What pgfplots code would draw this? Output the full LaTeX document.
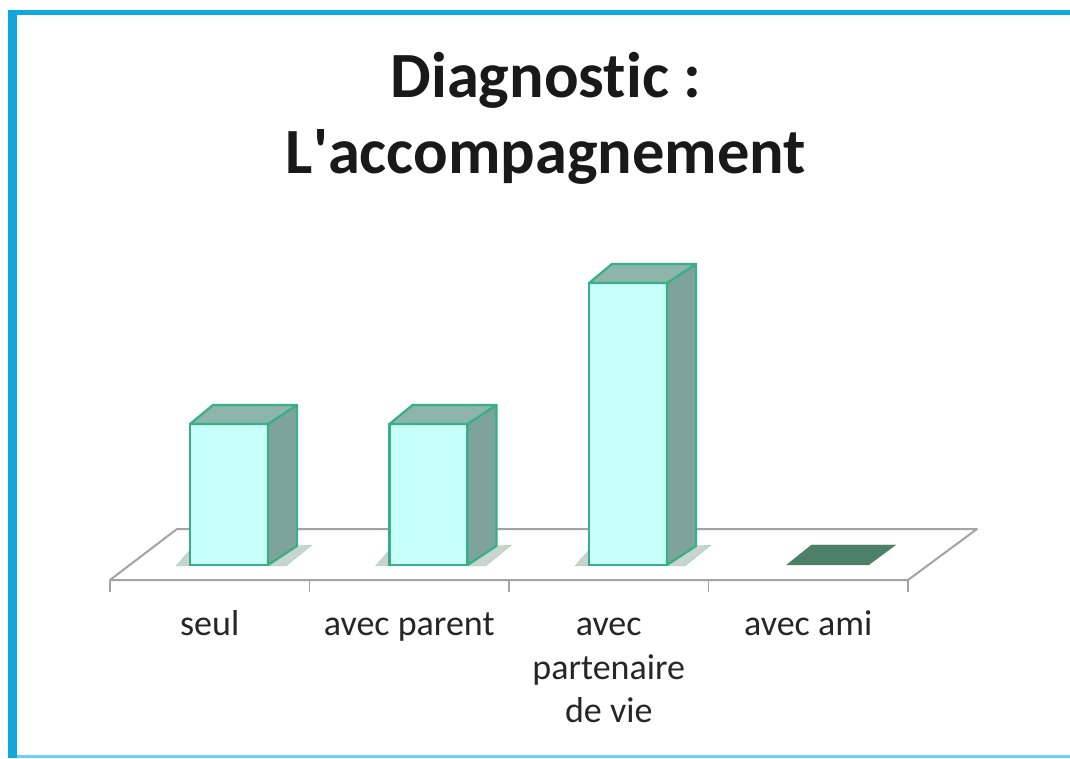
\documentclass[border=0pt]{standalone}
\usepackage{pgfplots}
\pgfplotsset{compat=1.18}
\usepackage{pgfplotstable}
\usepackage{fontspec}
\setmainfont{Carlito}[Ligatures={NoCommon}]
\definecolor{frontc}{HTML}{C8FFF8}
\definecolor{edgec}{HTML}{35B088}
\definecolor{sidec}{HTML}{7DA39B}
\definecolor{topc}{HTML}{8DB5AA}
\definecolor{zeroc}{HTML}{4D8069}
\definecolor{floorc}{HTML}{A3A3A3}
\definecolor{shadowc}{HTML}{5E8C78}
\definecolor{borderc}{HTML}{12A6DE}
\definecolor{borderlc}{HTML}{74CFEF}

\pgfplotstableread{
x y
0 1
1 1
2 2
3 0
}\data

\begin{document}
\begin{tikzpicture}
\begin{axis}[
  at={(0pt,0pt)}, anchor=south west,
  x=199.5pt, y=141pt,
  xmin=-1.1479, xmax=4.2155, ymin=-1.3688, ymax=4.0071,
  axis x line*=bottom, axis y line=none,
  x axis line style={draw=none},
  xtick style={draw=none},
  ytick=\empty,
  xtick={-0.0965,0.9035,1.9035,2.9035},
  xticklabels={seul,avec parent,{avec\\partenaire\\de vie},avec ami},
  typeset ticklabels with strut,
  xticklabel style={font=\fontsize{36}{43.5}\selectfont, align=center, anchor=north, inner sep=0pt, yshift=153pt, text=black!85},
  clip=false,
]
% floor
\addplot[draw=floorc, line width=2pt, fill=white, line join=round] coordinates {
  (-0.5965,-0.1064) (3.4035,-0.1064) (3.7494,0.2553) (-0.2607,0.2553) (-0.5965,-0.1064)};
% floor ticks
\addplot[draw=floorc, line width=1.5pt, unbounded coords=jump] coordinates {
  (-0.5965,-0.1064) (-0.5965,-0.19) (nan,nan)
  (0.4035,-0.1064) (0.4035,-0.19) (nan,nan)
  (1.4035,-0.1064) (1.4035,-0.19) (nan,nan)
  (2.4035,-0.1064) (2.4035,-0.19) (nan,nan)
  (3.4035,-0.1064) (3.4035,-0.19)};
% shadows beside bars
\addplot[scatter, only marks, mark=*, mark size=0pt, mark options={draw=none,fill=none},
  restrict expr to domain={\thisrow{y}}{0.5:100},
  scatter/@pre marker code/.code={\scope
    \fill[shadowc, opacity=0.35] (-92pt,-1pt) -- (-78pt,-1pt) -- (-78pt,15pt) -- cycle;
    \fill[shadowc, opacity=0.35] (0pt,-1pt) -- (18pt,-1pt) -- (44pt,20pt) -- (29pt,19pt) -- cycle;},
  scatter/@post marker code/.code={\endscope}]
  table[x expr=\thisrow{x}+0.1955, y expr=0] {\data};
% front faces
\addplot[ybar, bar width=0.391, fill=frontc, draw=edgec, line width=2.2pt,
  restrict y to domain=0.001:100] table[x=x, y=y] {\data};
% top and side faces
\addplot[scatter, only marks, mark=*, mark size=0pt, mark options={draw=none,fill=none},
  visualization depends on={rawy \as \val},
  scatter/@pre marker code/.code={\scope
    \ifdim \val pt>0pt
      \filldraw[fill=sidec, draw=edgec, line width=2.2pt, line join=round]
        (0pt,0pt) -- (29pt,19pt) -- (29pt,{19pt-\val*141pt}) -- (0pt,{-\val*141pt}) -- cycle;
      \filldraw[fill=topc, draw=edgec, line width=2.2pt, line join=round]
        (0pt,0pt) -- (-78pt,0pt) -- (-55pt,19pt) -- (29pt,19pt) -- cycle;
    \else
      \fill[zeroc] (2pt,0pt) -- (-80pt,0pt) -- (-55pt,20pt) -- (29pt,20pt) -- cycle;
    \fi},
  scatter/@post marker code/.code={\endscope}]
  table[x expr=\thisrow{x}+0.1955, y=y] {\data};
% title
\node[anchor=base, font=\fontsize{64.5}{76}\selectfont\bfseries, text=black!90] at (axis cs:1.589,3.319) {Diagnostic :};
\node[anchor=base, font=\fontsize{64.5}{76}\selectfont\bfseries, text=black!90] at (axis cs:1.589,2.780) {L\textquotesingle accompagnement};
\end{axis}
% frame
\fill[borderc] (8pt,0pt) rectangle (17pt,748pt);
\fill[borderc] (8pt,743pt) rectangle (1070pt,748pt);
\fill[borderlc] (17pt,0pt) rectangle (1070pt,3pt);
\pgfresetboundingbox
\useasboundingbox (0pt,0pt) rectangle (1070pt,758pt);
\end{tikzpicture}
\end{document}
